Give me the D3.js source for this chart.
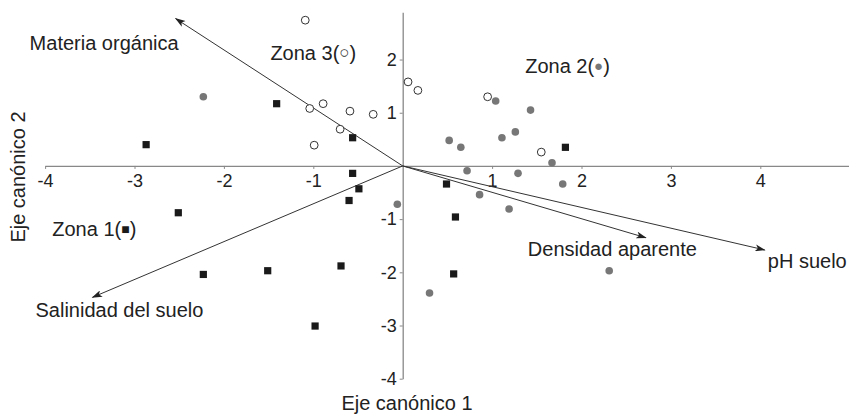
<!DOCTYPE html>
<html>
<head>
<meta charset="utf-8">
<script src="https://cdn.jsdelivr.net/npm/d3@7"></script>
<style>
    body { margin: 0; background: #fff; }
    text { font-family: "Liberation Sans", Arial, sans-serif; fill: #222; }
</style>
</head>
<body>
<svg id="chart" width="849" height="415"></svg>
<script>
// Zona 1 (cuadrados negros)
const zona1 = [
    [-1.41, 1.17], [-2.87, 0.40], [-0.56, 0.53], [1.82, 0.35], [-2.51, -0.88],
    [-2.23, -2.04], [-1.51, -1.97], [-0.56, -0.14], [-0.49, -0.43], [-0.60, -0.65],
    [0.49, -0.34], [0.59, -0.96], [-0.69, -1.88], [0.57, -2.03], [-0.98, -3.01]
];
// Zona 2 (circulos grises)
const zona2 = [
    [-2.23, 1.30], [1.04, 1.22], [1.43, 1.05], [0.52, 0.48], [0.65, 0.35],
    [1.11, 0.53], [1.26, 0.64], [0.72, -0.09], [1.67, 0.06], [-0.06, -0.72],
    [0.86, -0.54], [1.29, -0.14], [1.19, -0.81], [1.79, -0.34], [2.31, -1.97],
    [0.30, -2.39]
];
// Zona 3 (circulos abiertos)
const zona3 = [
    [-1.09, 2.74], [0.06, 1.58], [0.17, 1.42], [-1.04, 1.08], [-0.89, 1.17],
    [-0.59, 1.03], [-0.33, 0.97], [-0.70, 0.69], [-0.99, 0.39], [0.95, 1.30],
    [1.55, 0.26]
];
// variables ambientales (vectores)
const vectorNames = ['Materia orgánica', 'Salinidad del suelo', 'Densidad aparente', 'pH suelo'];
const vectorX = [-2.54, -3.47, 2.72, 4.05];
const vectorY = [2.77, -2.47, -1.35, -1.58];
const xTicks = [-4, -3, -2, -1, 1, 2, 3, 4];
const yTicks = [-4, -3, -2, -1, 1, 2];

const svg = d3.select('#chart');

const x = d3.scaleLinear().domain([-4, 5]).range([45.1, 849.7]);
const y = d3.scaleLinear().domain([-4, 2.89]).range([378.7, 12.2]);

// arrow head
svg.append('defs').append('marker')
    .attr('id', 'head')
    .attr('viewBox', '0 0 12 8')
    .attr('markerWidth', 12)
    .attr('markerHeight', 7)
    .attr('refX', 11)
    .attr('refY', 4)
    .attr('markerUnits', 'userSpaceOnUse')
    .attr('orient', 'auto')
    .append('path')
    .attr('d', 'M0,0 L12,4 L0,8 L3,4 Z')
    .attr('fill', '#222');

// axes through origin
const xAxis = svg.append('g')
    .attr('transform', `translate(0,${y(0)})`)
    .call(d3.axisBottom(x).tickValues(xTicks).tickSize(3).tickSizeOuter(0).tickPadding(5).tickFormat(d => String(d)));
const yAxis = svg.append('g')
    .attr('transform', `translate(${x(0)},0)`)
    .call(d3.axisLeft(y).tickValues(yTicks).tickSize(3).tickSizeOuter(0).tickPadding(3).tickFormat(d => String(d)));

[xAxis, yAxis].forEach(g => {
    g.select('.domain').attr('stroke', '#888').attr('stroke-width', 1.3);
    g.selectAll('.tick line').attr('stroke', '#888');
    g.selectAll('.tick text')
        .attr('fill', '#222')
        .style('font-size', '18px')
        .style('font-family', '"Liberation Sans", Arial, sans-serif');
});

// vectors
vectorNames.forEach((name, i) => {
    svg.append('line')
        .attr('x1', x(0))
        .attr('y1', y(0))
        .attr('x2', x(vectorX[i]))
        .attr('y2', y(vectorY[i]))
        .attr('stroke', '#333')
        .attr('stroke-width', 1)
        .attr('marker-end', 'url(#head)');
});

// vector labels, offset from the arrow tip
const labelOffsets = [[-146, 31], [-57, 20], [-118, 18], [3, 18]];
vectorNames.forEach((name, i) => {
    svg.append('text')
        .attr('x', x(vectorX[i]) + labelOffsets[i][0])
        .attr('y', y(vectorY[i]) + labelOffsets[i][1])
        .style('font-size', '20px')
        .text(name);
});

// points
svg.selectAll('.z2')
    .data(zona2)
    .join('circle')
    .attr('class', 'z2')
    .attr('cx', d => x(d[0]))
    .attr('cy', d => y(d[1]))
    .attr('r', 3.8)
    .attr('fill', '#777');

svg.selectAll('.z3')
    .data(zona3)
    .join('circle')
    .attr('class', 'z3')
    .attr('cx', d => x(d[0]))
    .attr('cy', d => y(d[1]))
    .attr('r', 3.9)
    .attr('fill', '#fff')
    .attr('stroke', '#333')
    .attr('stroke-width', 1);

svg.selectAll('.z1')
    .data(zona1)
    .join('rect')
    .attr('class', 'z1')
    .attr('x', d => x(d[0]) - 3.6)
    .attr('y', d => y(d[1]) - 3.6)
    .attr('width', 7.2)
    .attr('height', 7.2)
    .attr('fill', '#1a1a1a');

// zone labels
const zoneLabels = [
    { text: 'Zona 1(', sym: '■', color: '#1a1a1a', size: 14, px: -3.92, py: -1.32 },
    { text: 'Zona 2(', sym: '●', color: '#777', size: 15, px: 1.37, py: 1.74 },
    { text: 'Zona 3(', sym: '○', color: '#333', size: 17, px: -1.48, py: 1.99 }
];
zoneLabels.forEach(z => {
    const t = svg.append('text')
        .attr('x', x(z.px))
        .attr('y', y(z.py))
        .style('font-size', '20px');
    t.append('tspan').text(z.text);
    t.append('tspan')
        .attr('fill', z.color)
        .style('font-size', z.size + 'px')
        .attr('dy', -2)
        .text(z.sym);
    t.append('tspan')
        .attr('dy', 2)
        .text(')');
});

// axis titles
svg.append('text')
    .attr('x', 407)
    .attr('y', 410)
    .attr('text-anchor', 'middle')
    .style('font-size', '20px')
    .text('Eje canónico 1');

svg.append('text')
    .attr('transform', 'translate(25,177) rotate(-90)')
    .attr('text-anchor', 'middle')
    .style('font-size', '20px')
    .text('Eje canónico 2');
</script>
</body>
</html>
